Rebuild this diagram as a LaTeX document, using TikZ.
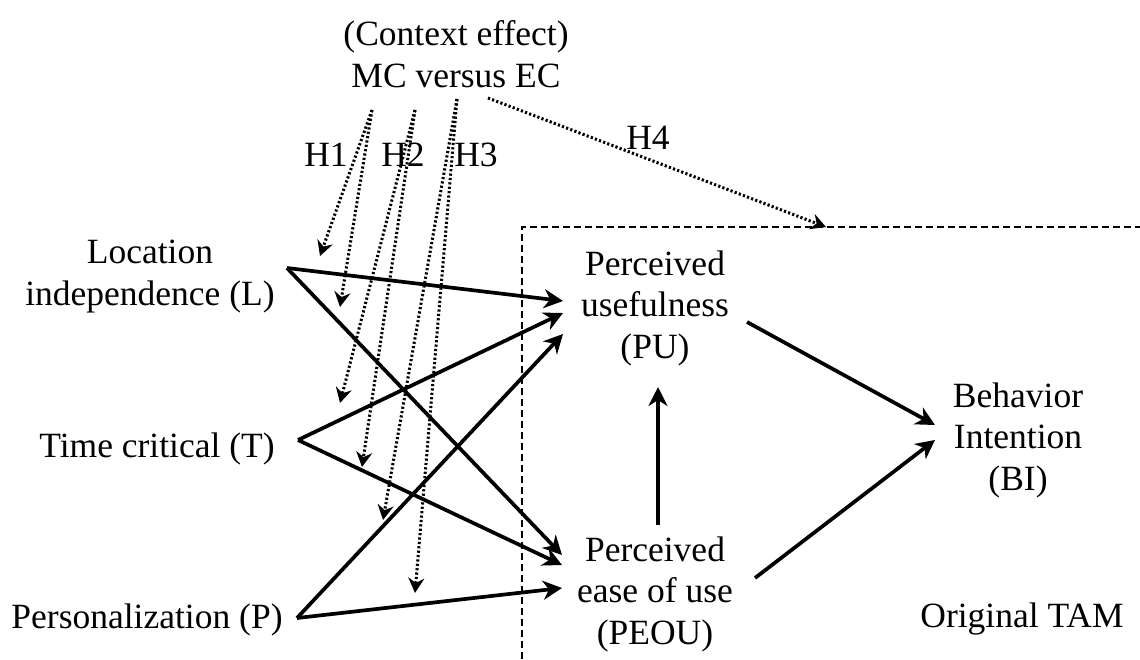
\documentclass[tikz,border=0pt]{standalone}
\usepackage{fontspec}
\setmainfont{Liberation Serif}
\usetikzlibrary{arrows.meta}
\begin{document}
\begin{tikzpicture}[x=1pt,y=-1pt,
  lbl/.style={align=center,inner sep=0pt,font=\fontsize{35.5}{41.5}\selectfont},
  solidarr/.style={line width=3.7pt,-{Stealth[length=19pt,width=19pt,inset=6pt]}},
  dotarr/.style={line width=3pt,dash pattern=on 2.2pt off 2.2pt,-{Stealth[length=15pt,width=16pt,inset=5pt]}},
  boxline/.style={line width=1.8pt,dash pattern=on 7pt off 4pt}]
\useasboundingbox (0,0) rectangle (1140,659);
% nodes
\node[lbl] (ctx) at (456,54) {(Context effect)\\MC versus EC};
\node[lbl] (L) at (150,276.5) {Location\\independence (L)};
\node[lbl] (T) at (157,448.5) {Time critical (T)};
\node[lbl] (P) at (147,619.5) {Personalization (P)};
\node[lbl] (PU) at (655,308) {Perceived\\usefulness\\(PU)};
\node[lbl] (PEOU) at (655,594) {Perceived\\ease of use\\(PEOU)};
\node[lbl] (BI) at (1018,440) {Behavior\\Intention\\(BI)};
\node[lbl] (TAM) at (1022,618.7) {Original TAM};
\node[lbl] (H1) at (326,155) {H1};
\node[lbl] (H2) at (403,155) {H2};
\node[lbl] (H3) at (476,155) {H3};
\node[lbl] (H4) at (648,137.5) {H4};
% dashed TAM frame
\coordinate (fb) at (522,659);
\coordinate (fc) at (522,227);
\coordinate (fr) at (1140,227);
\draw[boxline] (fb) -- (fc) -- (fr);
% moderation targets
\coordinate (m1) at (320,256);
\coordinate (m2) at (340,307);
\coordinate (m3) at (340,403);
\coordinate (m4) at (362,467);
\coordinate (m5) at (383,520);
\coordinate (m6) at (415,593);
\coordinate (m7) at (826,227);
% solid arrows
\draw[solidarr] ([shift={(137,-8.5)}]L.center) -- ([shift={(-92,-7)}]PU.center);
\draw[solidarr] ([shift={(137,-8.5)}]L.center) -- ([shift={(-93,-39)}]PEOU.center);
\draw[solidarr] ([shift={(141,-8.5)}]T.center) -- ([shift={(-92,5)}]PU.center);
\draw[solidarr] ([shift={(141,-8.5)}]T.center) -- ([shift={(-93,-29)}]PEOU.center);
\draw[solidarr] ([shift={(150,-1.5)}]P.center) -- ([shift={(-92,26)}]PU.center);
\draw[solidarr] ([shift={(150,-1.5)}]P.center) -- ([shift={(-93,-6)}]PEOU.center);
\draw[solidarr] ([shift={(3,-69)}]PEOU.center) -- ([shift={(3,79)}]PU.center);
\draw[solidarr] ([shift={(92,14)}]PU.center) -- ([shift={(-83,-15)}]BI.center);
\draw[solidarr] ([shift={(100,-16)}]PEOU.center) -- ([shift={(-83,0)}]BI.center);
% dotted arrows
\draw[dotarr] ([shift={(-84,56)}]ctx.center) -- (m1);
\draw[dotarr] ([shift={(-84,56)}]ctx.center) -- (m2);
\draw[dotarr] ([shift={(-41,56)}]ctx.center) -- (m3);
\draw[dotarr] ([shift={(-41,56)}]ctx.center) -- (m4);
\draw[dotarr] ([shift={(1,45)}]ctx.center) -- (m5);
\draw[dotarr] ([shift={(1,45)}]ctx.center) -- (m6);
\draw[dotarr] ([shift={(32,44)}]ctx.center) -- (m7);
\end{tikzpicture}
\end{document}
